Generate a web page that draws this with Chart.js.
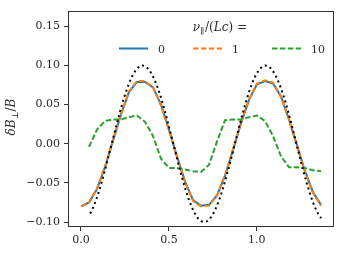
<!DOCTYPE html>
<html><head><meta charset="utf-8">
<script src="https://cdn.jsdelivr.net/npm/chart.js@4"></script>
<style>html,body{margin:0;padding:0;background:#fff}canvas{display:block}</style>
</head><body>
<canvas id="c" width="342" height="253"></canvas>
<script>
// ---- data ----
const xs = [0, 0.0455, 0.091, 0.1365, 0.182, 0.2275, 0.273, 0.3185, 0.364, 0.4095, 0.455, 0.5005, 0.546, 0.5915, 0.637, 0.6825, 0.728, 0.7735, 0.819, 0.8645, 0.91, 0.9555, 1.001, 1.0465, 1.092, 1.1375, 1.183, 1.2285, 1.274, 1.3195, 1.365];
const nu0 = [-0.080, -0.075, -0.058, -0.030, 0.004, 0.037, 0.066, 0.079, 0.079, 0.072, 0.050, 0.018, -0.016, -0.048, -0.072, -0.079, -0.078, -0.066, -0.041, -0.008, 0.026, 0.056, 0.076, 0.080, 0.077, 0.060, 0.031, -0.002, -0.035, -0.062, -0.078];
const nu1 = [-0.080, -0.075, -0.057, -0.029, 0.005, 0.038, 0.067, 0.080, 0.080, 0.072, 0.049, 0.017, -0.017, -0.049, -0.073, -0.080, -0.079, -0.066, -0.040, -0.007, 0.027, 0.057, 0.077, 0.081, 0.078, 0.060, 0.030, -0.003, -0.036, -0.063, -0.079];
const nu10 = [null, -0.004, 0.018, 0.029, 0.031, 0.031, 0.034, 0.036, 0.028, 0.010, -0.019, -0.031, -0.031, -0.033, -0.035, -0.036, -0.027, 0.003, 0.030, 0.031, 0.031, 0.034, 0.036, 0.029, 0.010, -0.016, -0.030, -0.030, -0.031, -0.034, -0.035];
const refX = [0.0525, 0.07, 0.0875, 0.105, 0.1225, 0.14, 0.1575, 0.175, 0.1925, 0.21, 0.2275, 0.245, 0.2625, 0.28, 0.2975, 0.315, 0.3325, 0.35, 0.3675, 0.385, 0.4025, 0.42, 0.4375, 0.455, 0.4725, 0.49, 0.5075, 0.525, 0.5425, 0.56, 0.5775, 0.595, 0.6125, 0.63, 0.6475, 0.665, 0.6825, 0.7, 0.7175, 0.735, 0.7525, 0.77, 0.7875, 0.805, 0.8225, 0.84, 0.8575, 0.875, 0.8925, 0.91, 0.9275, 0.945, 0.9625, 0.98, 0.9975, 1.015, 1.0325, 1.05, 1.0675, 1.085, 1.1025, 1.12, 1.1375, 1.155, 1.1725, 1.19, 1.2075, 1.225, 1.2425, 1.26, 1.2775, 1.295, 1.3125, 1.33, 1.3475, 1.365];
const refY = [-0.0891, -0.0809, -0.0707, -0.0588, -0.0454, -0.0309, -0.0156, 0, 0.0156, 0.0309, 0.0454, 0.0588, 0.0707, 0.0809, 0.0891, 0.0951, 0.0988, 0.1, 0.0988, 0.0951, 0.0891, 0.0809, 0.0707, 0.0588, 0.0454, 0.0309, 0.0156, 0, -0.0156, -0.0309, -0.0454, -0.0588, -0.0707, -0.0809, -0.0891, -0.0951, -0.0988,
  -0.1, -0.0988, -0.0951, -0.0891, -0.0809, -0.0707, -0.0588, -0.0454, -0.0309, -0.0156, 0, 0.0156, 0.0309, 0.0454, 0.0588, 0.0707, 0.0809, 0.0891, 0.0951, 0.0988, 0.1, 0.0988, 0.0951, 0.0891, 0.0809, 0.0707, 0.0588, 0.0454, 0.0309, 0.0156, 0, -0.0156, -0.0309, -0.0454, -0.0588, -0.0707, -0.0809, -0.0891, -0.0951];
const seriesLabels = ['0', '1', '10'];
const xTicks = [0, 0.5, 1.0];
const yTicks = [-0.10, -0.05, 0, 0.05, 0.10, 0.15];

// ---- helpers ----
function pts(x, y) { const o = []; for (let i = 0; i < x.length; i++) { if (y[i] !== null) o.push({x: x[i], y: y[i]}); } return o; }
const FONT = '"DejaVu Serif", serif';
const FS = 11;
const TXT = '#2a2a2a';
function runsWidth(ctx, runs, size) {
  let w = 0;
  for (const r of runs) { ctx.font = (r.it ? 'italic ' : '') + (r.sub ? size * 0.7 : size) + 'px ' + FONT; w += ctx.measureText(r.t).width + (r.gap || 0); }
  return w;
}
function drawRuns(ctx, runs, x, y, size) {
  let cx = x;
  ctx.textAlign = 'left'; ctx.textBaseline = 'alphabetic';
  for (const r of runs) {
    ctx.font = (r.it ? 'italic ' : '') + (r.sub ? size * 0.7 : size) + 'px ' + FONT;
    ctx.fillText(r.t, cx, y + (r.sub ? size * 0.25 : 0));
    cx += ctx.measureText(r.t).width + (r.gap || 0);
  }
}

const decor = {
  id: 'decor',
  afterDatasetsDraw(chart) {
    const ctx = chart.ctx, a = chart.chartArea;
    ctx.save();
    // frame
    ctx.strokeStyle = '#333'; ctx.lineWidth = 1; ctx.setLineDash([]);
    ctx.strokeRect(Math.round(a.left) - 0.5, Math.round(a.top) + 0.5, Math.round(a.right - a.left) + 1, Math.round(a.bottom - a.top));
    ctx.fillStyle = TXT;
    // legend title
    const title = [{t: 'ν', it: 1}, {t: '∥', sub: 1, gap: 1}, {t: '/('}, {t: 'Lc', it: 1}, {t: ')', gap: 4}, {t: '='}];
    const tw = runsWidth(ctx, title, 12);
    drawRuns(ctx, title, 220 - tw / 2, 31, 12);
    // legend items
    const starts = [119, 193, 272];
    const dsIdx = [3, 2, 1];
    for (let i = 0; i < 3; i++) {
      const ds = chart.data.datasets[dsIdx[i]];
      ctx.strokeStyle = ds.borderColor; ctx.lineWidth = ds.borderWidth;
      ctx.setLineDash(ds.borderDash || []);
      ctx.beginPath(); ctx.moveTo(starts[i], 48.5); ctx.lineTo(starts[i] + 29, 48.5); ctx.stroke();
      ctx.setLineDash([]);
      ctx.fillStyle = TXT; ctx.font = FS + 'px ' + FONT; ctx.textAlign = 'left'; ctx.textBaseline = 'alphabetic';
      ctx.fillText(seriesLabels[i], starts[i] + 39, 53);
    }
    // y title
    ctx.translate(15, 117); ctx.rotate(-Math.PI / 2);
    const yt = [{t: 'δ', it: 1}, {t: 'B', it: 1}, {t: '⊥', sub: 1}, {t: '/'}, {t: 'B', it: 1}];
    const yw = runsWidth(ctx, yt, FS + 1);
    drawRuns(ctx, yt, -yw / 2, 0, FS + 1);
    ctx.restore();
  }
};

new Chart(document.getElementById('c'), {
  type: 'line',
  data: {
    datasets: [
      {label: 'ref', data: pts(refX, refY), borderColor: '#000', borderWidth: 2, borderDash: [2, 3.3], pointRadius: 0, tension: 0},
      {label: seriesLabels[2], data: pts(xs, nu10), borderColor: '#2ca02c', borderWidth: 2, borderDash: [5.5, 2.4], pointRadius: 0, tension: 0},
      {label: seriesLabels[1], data: pts(xs, nu1), borderColor: '#ff7f0e', borderWidth: 2, borderDash: [5.5, 2.4], pointRadius: 0, tension: 0},
      {label: seriesLabels[0], data: pts(xs, nu0), borderColor: '#1f77b4', borderWidth: 2, pointRadius: 0, tension: 0}
    ]
  },
  options: {
    responsive: false, animation: false, devicePixelRatio: 1,
    layout: {padding: {left: 0, top: 8, right: 9, bottom: 0}},
    plugins: {legend: {display: false}, tooltip: {enabled: false}},
    scales: {
      x: {
        type: 'linear', min: -0.068, max: 1.433,
        afterBuildTicks: s => { s.ticks = xTicks.map(v => ({value: v})); },
        afterFit: s => { s.height = 27; },
        grid: {drawOnChartArea: false, tickLength: 5, tickColor: '#333'},
        border: {display: false},
        ticks: {color: TXT, font: {family: FONT, size: FS}, padding: 3, maxRotation: 0, callback: v => v.toFixed(1)}
      },
      y: {
        type: 'linear', min: -0.105, max: 0.170,
        afterBuildTicks: s => { s.ticks = yTicks.map(v => ({value: v})); },
        afterFit: s => { s.width = 69; },
        grid: {drawOnChartArea: false, tickLength: 5, tickColor: '#333'},
        border: {display: false},
        ticks: {color: TXT, font: {family: FONT, size: FS}, padding: 4, callback: v => (v < -1e-9 ? '−' : '') + Math.abs(v).toFixed(2)}
      }
    }
  },
  plugins: [decor]
});
</script>
</body></html>
